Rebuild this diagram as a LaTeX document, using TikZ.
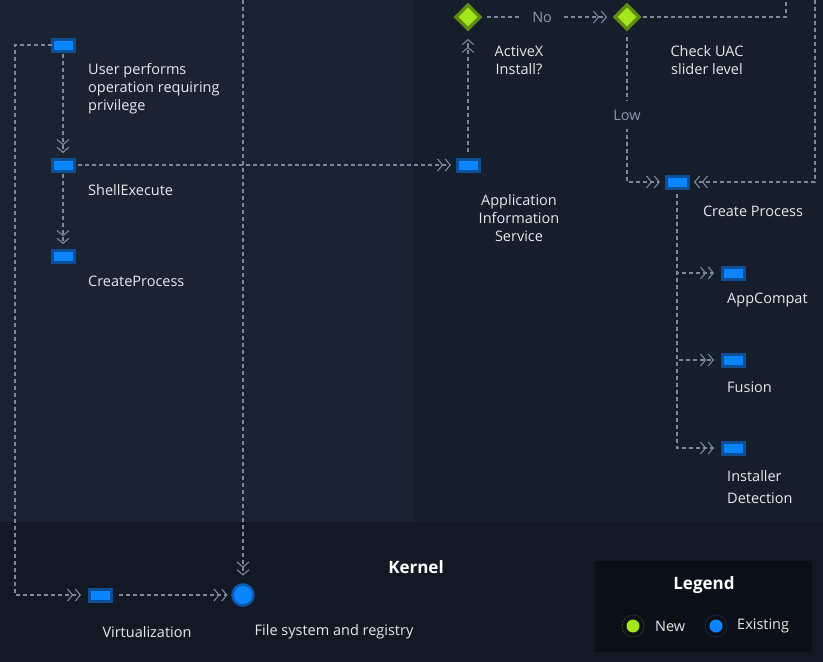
\documentclass[tikz,border=0pt]{standalone}
\usepackage{fontspec}
\setmainfont{Open Sans}
\usetikzlibrary{arrows.meta,shapes.geometric}
\definecolor{bgL}{HTML}{1B2332}
\definecolor{bgR}{HTML}{161D2B}
\definecolor{bgB}{HTML}{121925}
\definecolor{legbg}{HTML}{0B1018}
\definecolor{linec}{HTML}{7D889C}
\definecolor{txt}{HTML}{E6E9EF}
\definecolor{dimtxt}{HTML}{8E99AC}
\definecolor{blueIn}{HTML}{0A84FF}
\definecolor{blueOut}{HTML}{0D4E99}
\definecolor{greenIn}{HTML}{A2E61B}
\definecolor{greenOut}{HTML}{5F8D12}
\definecolor{ringG}{HTML}{3C5A18}
\definecolor{ringB}{HTML}{1A3D6A}
\begin{document}
\begin{tikzpicture}[x=1pt,y=-1pt,
  blk/.style={draw=blueOut, fill=blueIn, line width=3pt, minimum width=22pt, minimum height=12pt, inner sep=0pt, outer sep=0pt},
  dmd/.style={diamond, draw=greenOut, fill=greenIn, line width=3.5pt, minimum width=24pt, minimum height=24pt, inner sep=0pt, outer sep=0pt, aspect=1},
  circ/.style={circle, draw=blueOut!80!blueIn, fill=blueIn, line width=2.5pt, minimum size=21pt, inner sep=0pt, outer sep=0pt},
  chev/.tip={Straight Barb[length=5pt,width=12pt,line width=1.1pt]},
  plain/.style={draw=linec, line width=1.1pt, dash pattern=on 4pt off 3pt},
  flow/.style={plain, -{chev[sep=1.5pt] chev}, shorten >=6pt},
  lbl/.style={text=txt, font=\fontsize{14.5}{18}\selectfont, inner sep=0pt},
  dim/.style={text=dimtxt, font=\fontsize{14.5}{18}\selectfont, fill=bgR, inner xsep=12pt, inner ysep=9pt},
  hdr/.style={text=white, font=\fontsize{17}{20}\selectfont\bfseries, inner sep=0pt}
]
\useasboundingbox (0,0) rectangle (823,662);
% backgrounds
\fill[bgB] (0,0) rectangle (823,662);
\fill[bgL] (0,0) rectangle (413,522);
\fill[bgR] (413,0) rectangle (823,522);
\fill[legbg] (595,561) rectangle (812,652);

% nodes
\node[blk] (user) at (63,45) {};
\node[blk] (shell) at (63,165) {};
\node[blk] (cp1) at (63,256) {};
\node[blk] (ais) at (468,165) {};
\node[dmd] (ax) at (468,17) {};
\node[dmd] (uac) at (627,17) {};
\node[blk] (crp) at (677,182) {};
\node[blk] (appc) at (733,273) {};
\node[blk] (fus) at (733,360) {};
\node[blk] (inst) at (733,448) {};
\node[blk] (virt) at (100,595) {};
\node[circ] (fs) at (243,595) {};

\coordinate (topL) at (243,0);
\coordinate (topR) at (815,0);
\coordinate (topU) at (786,0);
\coordinate (lft) at (15,595);

% connectors
\draw[flow, shorten <=3pt] (user.south) -- (shell.north);
\draw[flow, shorten <=3pt] (shell.south) -- (cp1.north);
\draw[flow, shorten <=4pt] (shell.east) -- (ais.west);
\draw[flow, shorten <=7pt, shorten >=10pt] (ais.north) -- (ax.south);
\draw[flow, shorten <=7pt, shorten >=8pt] (ax.east) -- node[dim, pos=0.46] (no) {No} (uac.west);
\draw[flow, shorten <=8pt] (uac.south) |- node[dim, pos=0.281] (low) {Low} (crp.west);
\draw[plain, shorten <=4pt] (uac.east) -| (topU);
\draw[flow] (topR) |- (crp.east);
\draw[flow, shorten <=6pt, shorten >=8pt] (crp.south) |- (appc.west);
\draw[flow, shorten <=6pt, shorten >=8pt] (crp.south) |- (fus.west);
\draw[flow, shorten <=6pt, shorten >=8pt] (crp.south) |- (inst.west);
\draw[flow, shorten >=8pt] (user.west) -| (lft) -- (virt.west);
\draw[flow, shorten <=8pt, shorten >=5pt] (virt.east) -- (fs.west);
\draw[flow, shorten >=9pt] (topL) -- (fs.north);

% labels
\node[lbl, anchor=west, align=left] (tuser) at (88,89) {User performs\\operation requiring\\privilege};
\node[lbl, anchor=west] (tshell) at (88,190) {ShellExecute};
\node[lbl, anchor=west] (tcp1) at (88,281) {CreateProcess};
\node[lbl, align=center] (tax) at (519,60) {ActiveX\\Install?};
\node[lbl, align=center] (tuac) at (707,60) {Check UAC\\slider level};
\node[lbl, align=center] (tais) at (519,218) {Application\\Information\\Service};
\node[lbl] (tcrp) at (753,211) {Create Process};
\node[lbl, anchor=west] (tappc) at (727,300) {AppCompat};
\node[lbl, anchor=west] (tfus) at (727,387) {Fusion};
\node[lbl, anchor=west, align=left, font=\fontsize{14.5}{22}\selectfont] (tinst) at (727,487) {Installer\\Detection};
\node[lbl] (tvirt) at (147,632) {Virtualization};
\node[lbl] (tfs) at (334,632) {File system and registry};
\node[hdr] (kernel) at (416,567) {Kernel};

% legend
\node[hdr] (leg) at (704,585) {Legend};
\node[circle, draw=ringG, densely dotted, line width=0.8pt, minimum size=22pt, inner sep=0pt] (newring) at (633,626) {};
\node[circle, fill=greenIn, minimum size=13pt, inner sep=0pt] (newdot) at (633,626) {};
\node[lbl, anchor=west] (tnew) at (655,626) {New};
\node[circle, draw=ringB, densely dotted, line width=0.8pt, minimum size=22pt, inner sep=0pt] (exring) at (716,626) {};
\node[circle, fill=blueIn, minimum size=13pt, inner sep=0pt] (exdot) at (716,626) {};
\node[lbl, anchor=west] (tex) at (737,626) {Existing};
\end{tikzpicture}
\end{document}
